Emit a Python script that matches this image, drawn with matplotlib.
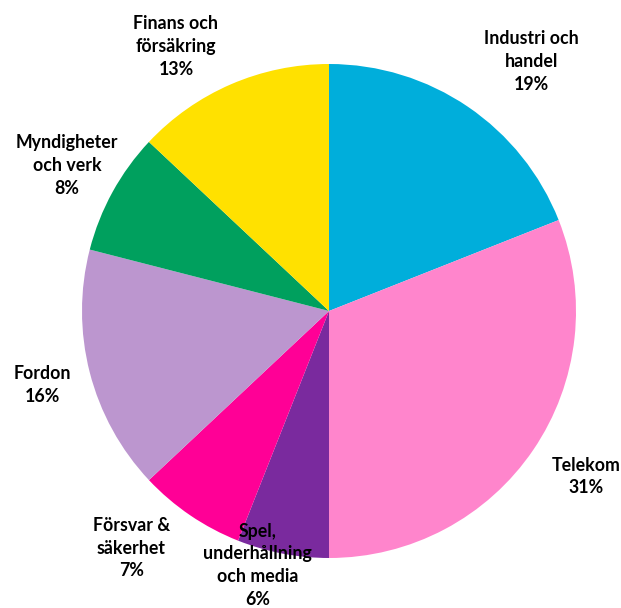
import matplotlib.pyplot as plt

labels = ['Industri och\nhandel', 'Telekom', 'Spel,\nunderhållning\noch media',
          'Försvar &\nsäkerhet', 'Fordon', 'Myndigheter\noch verk', 'Finans och\nförsäkring']
shares = [19, 31, 6, 7, 16, 8, 13]
colors = ['#00AEDB', '#FF85CC', '#7A2A9E', '#FF0096', '#BC96CF', '#00A05E', '#FFE100']
# label centres, in units of the pie radius
label_pos = [(0.82, 1.01), (1.04, -0.67), (-0.29, -1.03), (-0.80, -0.96),
             (-1.16, -0.30), (-1.06, 0.59), (-0.62, 1.07)]

fig = plt.figure(figsize=(6.21, 6.08), dpi=100)
ax = fig.add_axes([0, 0, 1, 1])
ax.pie(shares, colors=colors, startangle=90, counterclock=False, radius=1,
       wedgeprops=dict(linewidth=0))
for lab, val, (x, y) in zip(labels, shares, label_pos):
    ax.text(x, y, f'{lab}\n{val}%', ha='center', va='center', fontsize=12.8,
            fontweight='bold', family=['Lato', 'DejaVu Sans'], linespacing=1.42)
ax.set_xlim(-329 / 247, (621 - 329) / 247)
ax.set_ylim(-(608 - 311) / 247, 311 / 247)
ax.set_aspect('auto')
ax.axis('off')
plt.savefig('out.png', dpi=100)
